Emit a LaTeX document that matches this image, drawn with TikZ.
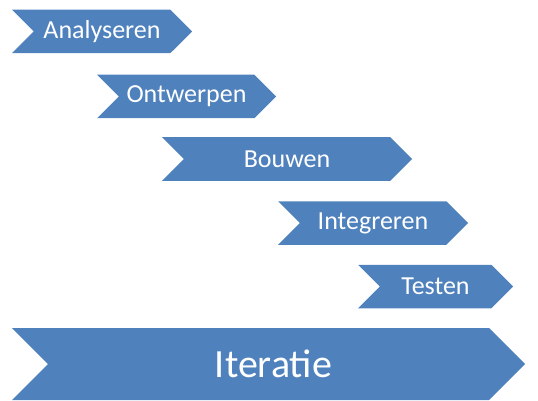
\documentclass[tikz,border=0pt]{standalone}
\usepackage{fontspec}
\setmainfont{Carlito}
\usetikzlibrary{shapes.symbols}
\definecolor{chevblue}{RGB}{79,129,189}
\tikzset{
  chev/.style={signal, signal from=west, signal to=east, signal pointer angle=90,
    fill=chevblue, draw=none, text=white, inner sep=0pt, outer sep=0pt,
    minimum height=43.5pt, font=\fontsize{26}{30}\selectfont},
  bigchev/.style={chev, minimum height=72pt, font=\fontsize{40}{46}\selectfont}
}
\begin{document}
\begin{tikzpicture}[x=1pt,y=-1pt]
\useasboundingbox (0,0) rectangle (538,401);
\node[chev, minimum width=180pt] (ana) at (102,31.5) {Analyseren};
\node[chev, minimum width=179pt] (ont) at (186.5,96.5) {Ontwerpen};
\node[chev, minimum width=250pt] (bou) at (287,159) {Bouwen};
\node[chev, minimum width=190pt] (int) at (373,223) {Integreren};
\node[chev, minimum width=155pt] (tes) at (435.5,286.5) {Testen};
\node[bigchev, minimum width=513pt] (ite) at (268.5,364) {\hspace{10pt}Iteratie};
\end{tikzpicture}
\end{document}
